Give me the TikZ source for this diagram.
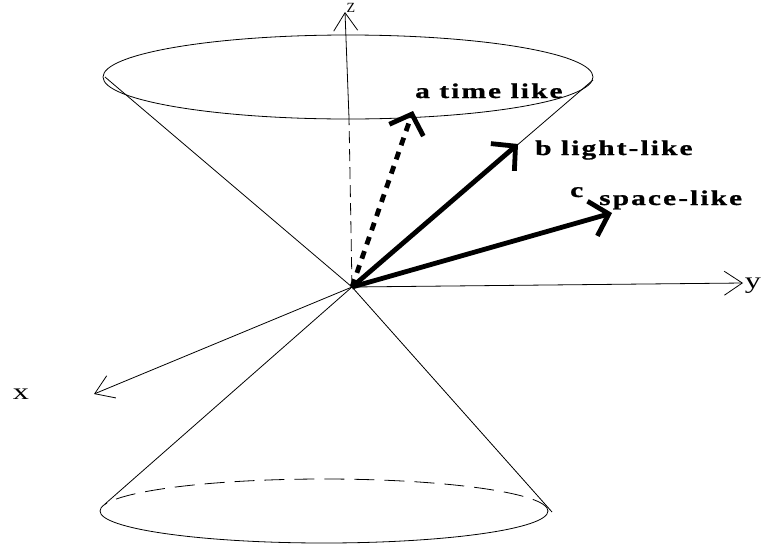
\documentclass[tikz,border=0pt]{standalone}
\usepackage{fontspec}
\setmainfont{Liberation Serif}
\usetikzlibrary{arrows.meta, positioning}

\begin{document}
\begin{tikzpicture}[
			x=1pt, y=-1pt,
			thin line/.style={line width=0.8pt},
			axis/.style={line width=0.8pt, -{Straight Barb[length=18pt, width=24pt]}},
			vec/.style={line width=4.8pt, -{Straight Barb[length=17pt, width=36pt]}},
			tag/.style={font=\fontsize{21}{24}\selectfont\bfseries\addfontfeature{FakeStretch=1.4, FakeBold=1, LetterSpace=10},
				anchor=base west, inner sep=0pt},
			axtag/.style={font=\fontsize{23}{24}\selectfont\addfontfeature{FakeStretch=1.4}, anchor=base, inner sep=0pt},
			]
			\useasboundingbox (0,0) rectangle (765,552);
			% origin and end points
			\coordinate (O) at (352,287);
			\coordinate (ztip) at (345,12);
			\coordinate (zfront) at (349,118);
			\coordinate (xtip) at (94,394);
			\coordinate (ytip) at (743,283);
			\coordinate (ul) at (105,77);
			\coordinate (ur) at (593,80);
			\coordinate (ll) at (105,504);
			\coordinate (lr) at (552,512);
			\coordinate (atip) at (413,111);
			\coordinate (btip) at (518,144);
			\coordinate (ctip) at (612,213);
			% light cone
			\draw[thin line] (348,77) ellipse [x radius=245pt, y radius=42pt];
			\draw[thin line] (100,511) arc[start angle=180, end angle=360, x radius=224pt, y radius=32pt];
			\draw[thin line, dash pattern=on 20pt off 10pt] (548,511) arc[start angle=0, end angle=180, x radius=224pt, y radius=32pt];
			\draw[thin line] (ul) -- (O) -- (lr);
			\draw[thin line] (ur) -- (O) -- (ll);
			% axes
			\draw[axis] (zfront) -- (ztip);
			\draw[thin line, dash pattern=on 12pt off 6pt] (O) -- (zfront);
			\draw[axis] (O) -- (xtip);
			\draw[axis] (O) -- (ytip);
			\node[axtag, font=\fontsize{14}{16}\selectfont] (zl) at (351,12) {Z};
			\node[axtag] (xl) at (21,399) {x};
			\node[axtag] (yl) at (753,288) {y};
			% vectors
			\draw[vec, dash pattern=on 8pt off 7pt] (O) -- (atip);
			\draw[vec] (O) -- (btip);
			\draw[vec] (O) -- (ctip);
			\node[tag] (al) at (415,98) {a time like};
			\node[tag] (bl) at (535,155) {b light-like};
			\node[tag] (cl) at (570,197) {c};
			\node[tag] (sl) at (599,205) {space-like};
	\end{tikzpicture}
\end{document}
